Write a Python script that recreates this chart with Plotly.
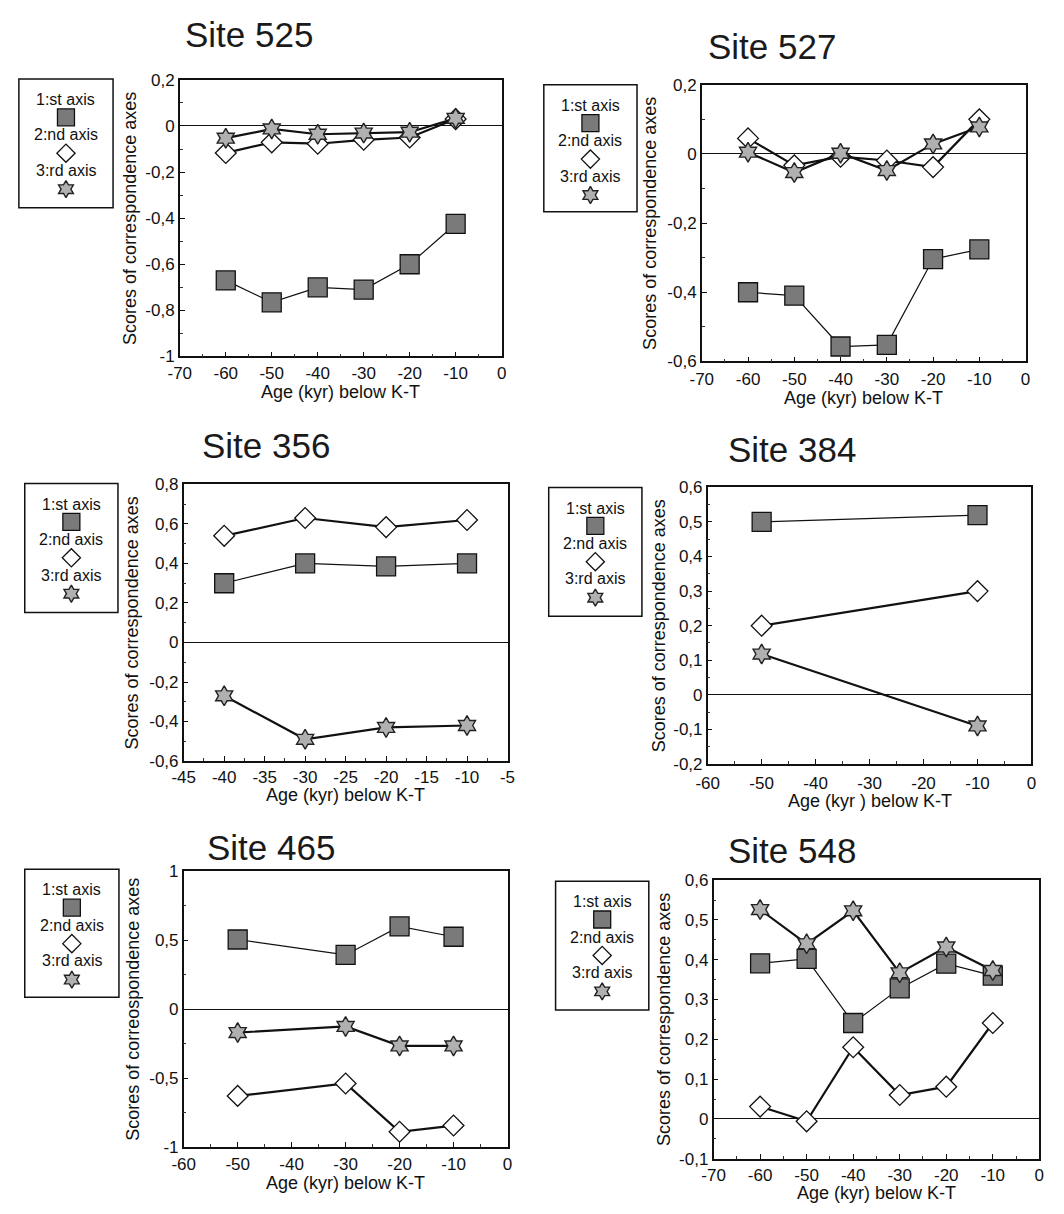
import plotly.graph_objects as go

W, H = 1064, 1214

# ---------------- data ----------------
site_names = ["Site 525", "Site 527", "Site 356", "Site 384", "Site 465", "Site 548"]
series_names = ["1:st axis", "2:nd axis", "3:rd axis"]

age_525 = [-60, -50, -40, -30, -20, -10]
ax1_525 = [-0.67, -0.765, -0.70, -0.71, -0.60, -0.425]
ax2_525 = [-0.117, -0.071, -0.077, -0.060, -0.050, 0.030]
ax3_525 = [-0.053, -0.013, -0.036, -0.031, -0.027, 0.033]

age_527 = [-60, -50, -40, -30, -20, -10]
ax1_527 = [-0.40, -0.41, -0.557, -0.552, -0.304, -0.276]
ax2_527 = [0.045, -0.033, -0.008, -0.019, -0.038, 0.100]
ax3_527 = [0.005, -0.054, 0.002, -0.048, 0.029, 0.078]

age_356 = [-40, -30, -20, -10]
ax1_356 = [0.30, 0.40, 0.385, 0.40]
ax2_356 = [0.54, 0.63, 0.584, 0.62]
ax3_356 = [-0.27, -0.49, -0.43, -0.42]

age_384 = [-50, -10]
ax1_384 = [0.50, 0.52]
ax2_384 = [0.20, 0.30]
ax3_384 = [0.118, -0.09]

age_465 = [-50, -30, -20, -10]
ax1_465 = [0.505, 0.393, 0.60, 0.525]
ax2_465 = [-0.63, -0.54, -0.89, -0.845]
ax3_465 = [-0.17, -0.126, -0.267, -0.267]

age_548 = [-60, -50, -40, -30, -20, -10]
ax1_548 = [0.391, 0.402, 0.241, 0.328, 0.390, 0.360]
ax2_548 = [0.031, -0.006, 0.180, 0.060, 0.081, 0.241]
ax3_548 = [0.526, 0.440, 0.523, 0.367, 0.432, 0.373]

# tick labels
xt_70 = [-70, -60, -50, -40, -30, -20, -10, 0]
xt_70_text = ["-70", "-60", "-50", "-40", "-30", "-20", "-10", "0"]
xt_60 = [-60, -50, -40, -30, -20, -10, 0]
xt_60_text = ["-60", "-50", "-40", "-30", "-20", "-10", "0"]
xt_45 = [-45, -40, -35, -30, -25, -20, -15, -10, -5]
xt_45_text = ["-45", "-40", "-35", "-30", "-25", "-20", "-15", "-10", "-5"]

yt_525 = [-1, -0.8, -0.6, -0.4, -0.2, 0, 0.2]
yt_525_text = ["-1", "-0,8", "-0,6", "-0,4", "-0,2", "0", "0,2"]
yt_527 = [-0.6, -0.4, -0.2, 0, 0.2]
yt_527_text = ["-0,6", "-0,4", "-0,2", "0", "0,2"]
yt_356 = [-0.6, -0.4, -0.2, 0, 0.2, 0.4, 0.6, 0.8]
yt_356_text = ["-0,6", "-0,4", "-0,2", "0", "0,2", "0,4", "0,6", "0,8"]
yt_384 = [-0.2, -0.1, 0, 0.1, 0.2, 0.3, 0.4, 0.5, 0.6]
yt_384_text = ["-0,2", "-0,1", "0", "0,1", "0,2", "0,3", "0,4", "0,5", "0,6"]
yt_465 = [-1, -0.5, 0, 0.5, 1]
yt_465_text = ["-1", "-0,5", "0", "0,5", "1"]
yt_548 = [-0.1, 0, 0.1, 0.2, 0.3, 0.4, 0.5, 0.6]
yt_548_text = ["-0,1", "0", "0,1", "0,2", "0,3", "0,4", "0,5", "0,6"]

ytitle_std = "Scores of correspondence axes"
ytitle_465 = "Scores of correospondence axes"
xtitle_std = "Age (kyr) below K-T"
xtitle_384 = "Age (kyr ) below K-T"

panels = [
    dict(name=site_names[0], age=age_525, s=[ax1_525, ax2_525, ax3_525],
         xr=[-70, 0], yr=[-1, 0.2], xt=xt_70, xtt=xt_70_text, yt=yt_525, ytt=yt_525_text,
         yt_title=ytitle_std, xt_title=xtitle_std, xminor=5, yminor=0.1),
    dict(name=site_names[1], age=age_527, s=[ax1_527, ax2_527, ax3_527],
         xr=[-70, 0], yr=[-0.6, 0.2], xt=xt_70, xtt=xt_70_text, yt=yt_527, ytt=yt_527_text,
         yt_title=ytitle_std, xt_title=xtitle_std, xminor=5, yminor=0.1),
    dict(name=site_names[2], age=age_356, s=[ax1_356, ax2_356, ax3_356],
         xr=[-45, -5], yr=[-0.6, 0.8], xt=xt_45, xtt=xt_45_text, yt=yt_356, ytt=yt_356_text,
         yt_title=ytitle_std, xt_title=xtitle_std, xminor=2.5, yminor=0.1),
    dict(name=site_names[3], age=age_384, s=[ax1_384, ax2_384, ax3_384],
         xr=[-60, 0], yr=[-0.2, 0.6], xt=xt_60, xtt=xt_60_text, yt=yt_384, ytt=yt_384_text,
         yt_title=ytitle_std, xt_title=xtitle_384, xminor=5, yminor=0.05),
    dict(name=site_names[4], age=age_465, s=[ax1_465, ax2_465, ax3_465],
         xr=[-60, 0], yr=[-1, 1], xt=xt_60, xtt=xt_60_text, yt=yt_465, ytt=yt_465_text,
         yt_title=ytitle_465, xt_title=xtitle_std, xminor=5, yminor=0.25),
    dict(name=site_names[5], age=age_548, s=[ax1_548, ax2_548, ax3_548],
         xr=[-70, 0], yr=[-0.1, 0.6], xt=xt_70, xtt=xt_70_text, yt=yt_548, ytt=yt_548_text,
         yt_title=ytitle_std, xt_title=xtitle_std, xminor=5, yminor=0.05),
]

# ---------------- layout geometry (pixels) ----------------
boxes = [
    (171, 499, 72, 353),
    (703, 1033, 77, 358),
    (175, 505, 483, 764),
    (709, 1039, 486, 767),
    (175, 505, 876, 1156),
    (715, 1047, 885, 1168),
]
leg_boxes = [
    (7, 103, 71, 202),
    (542, 637, 77, 206),
    (13, 108, 482, 613),
    (547, 642, 486, 617),
    (13, 109, 874, 1004),
    (554, 649, 886, 1017),
]
title_pos = [(242, 26), (775, 38), (259, 443), (795, 448), (264, 852), (795, 855)]
xtitle_off = [36, 37, 34, 38, 37, 35]
ytitle_off = [51, 53, 53, 50, 52, 50]
xlabel_standoff = [0, 1, 0, 3, 1, 0]

FONT = "Liberation Sans, Arial, Helvetica, sans-serif"

styles = [
    dict(symbol="square", size=19, color="#7a7a7a", lc="#111111", lw=1.3, linew=1.2),
    dict(symbol="diamond", size=16, color="#ffffff", lc="#111111", lw=1.3, linew=2.2),
    dict(symbol="hexagram", size=15, color="#b0b0b0", lc="#222222", lw=1.4, linew=2.2),
]
leg_sizes = [17, 14, 13]

def px(x):
    return x / W

def py(y):
    return 1 - y / H

fig = go.Figure()
annotations = []
shapes = []

for i, p in enumerate(panels):
    n = i + 1
    xa = "xaxis" if n == 1 else f"xaxis{n}"
    ya = "yaxis" if n == 1 else f"yaxis{n}"
    xref = "x" if n == 1 else f"x{n}"
    yref = "y" if n == 1 else f"y{n}"
    l, r, t, b = boxes[i]
    for k in range(3):
        st = styles[k]
        fig.add_trace(go.Scatter(
            x=p["age"], y=p["s"][k], mode="lines+markers",
            xaxis=xref, yaxis=yref, showlegend=False, cliponaxis=False,
            line=dict(color="#111111", width=st["linew"]),
            marker=dict(symbol=st["symbol"], size=st["size"], color=st["color"],
                        line=dict(color=st["lc"], width=st["lw"])),
        ))
    fig.layout[xa] = dict(
        domain=[px(l), px(r)], range=p["xr"], anchor=yref,
        tickmode="array", tickvals=p["xt"], ticktext=p["xtt"],
        showline=True, linecolor="#111111", linewidth=1.5, mirror=True,
        ticks="inside", ticklen=5, tickcolor="#111111",
        minor=dict(ticks="inside", ticklen=3, tickcolor="#333333", dtick=p["xminor"], tick0=0),
        showgrid=False, zeroline=False, ticklabelstandoff=xlabel_standoff[i],
        tickfont=dict(family=FONT, size=17, color="#111111"),
    )
    fig.layout[ya] = dict(
        domain=[py(b), py(t)], range=p["yr"], anchor=xref,
        tickmode="array", tickvals=p["yt"], ticktext=p["ytt"],
        showline=True, linecolor="#111111", linewidth=1.5, mirror=True,
        ticks="inside", ticklen=5, tickcolor="#111111",
        minor=dict(ticks="inside", ticklen=3, tickcolor="#333333", dtick=p["yminor"], tick0=0),
        showgrid=False, zeroline=True, zerolinecolor="#111111", zerolinewidth=1.3,
        tickfont=dict(family=FONT, size=17, color="#111111"),
    )
    tx, ty = title_pos[i]
    annotations.append(dict(x=px(tx), y=py(ty), xref="paper", yref="paper",
                            text=p["name"], showarrow=False,
                            font=dict(family=FONT, size=35, color="#1a1a1a"),
                            xanchor="center", yanchor="middle"))
    annotations.append(dict(x=px((l + r) / 2), y=py(b + xtitle_off[i]), xref="paper", yref="paper",
                            text=p["xt_title"], showarrow=False,
                            font=dict(family=FONT, size=18, color="#111111"),
                            xanchor="center", yanchor="middle"))
    annotations.append(dict(x=px(l - ytitle_off[i]), y=py((t + b) / 2), xref="paper", yref="paper",
                            text=p["yt_title"], showarrow=False, textangle=-90,
                            font=dict(family=FONT, size=18, color="#111111"),
                            xanchor="center", yanchor="middle"))
    ll, lr, lt, lb = leg_boxes[i]
    shapes.append(dict(type="rect", xref="paper", yref="paper",
                       x0=px(ll), x1=px(lr), y0=py(lb), y1=py(lt),
                       line=dict(color="#111111", width=1.5), fillcolor="rgba(0,0,0,0)"))
    cx = (ll + lr) / 2
    for k in range(3):
        annotations.append(dict(x=px(cx), y=py(lt + 21 + 36 * k), xref="paper", yref="paper",
                                text=series_names[k], showarrow=False,
                                font=dict(family=FONT, size=16, color="#111111"),
                                xanchor="center", yanchor="middle"))
        st = styles[k]
        fig.add_trace(go.Scatter(
            x=[cx], y=[lt + 39 + 36.5 * k], mode="markers", xaxis="x7", yaxis="y7",
            showlegend=False, hoverinfo="skip",
            marker=dict(symbol=st["symbol"], size=leg_sizes[k], color=st["color"],
                        line=dict(color=st["lc"], width=st["lw"])),
        ))

fig.layout["xaxis7"] = dict(domain=[0, 1], range=[0, W], visible=False, anchor="y7")
fig.layout["yaxis7"] = dict(domain=[0, 1], range=[H, 0], visible=False, anchor="x7")

fig.update_layout(
    width=W, height=H, margin=dict(l=0, r=0, t=0, b=0),
    paper_bgcolor="white", plot_bgcolor="rgba(0,0,0,0)",
    annotations=annotations, shapes=shapes, showlegend=False,
    font=dict(family=FONT, color="#111111"),
)

fig.write_html("out.html", config={"displayModeBar": False},
               post_script="document.body.style.margin='0';document.body.style.overflow='hidden';")
